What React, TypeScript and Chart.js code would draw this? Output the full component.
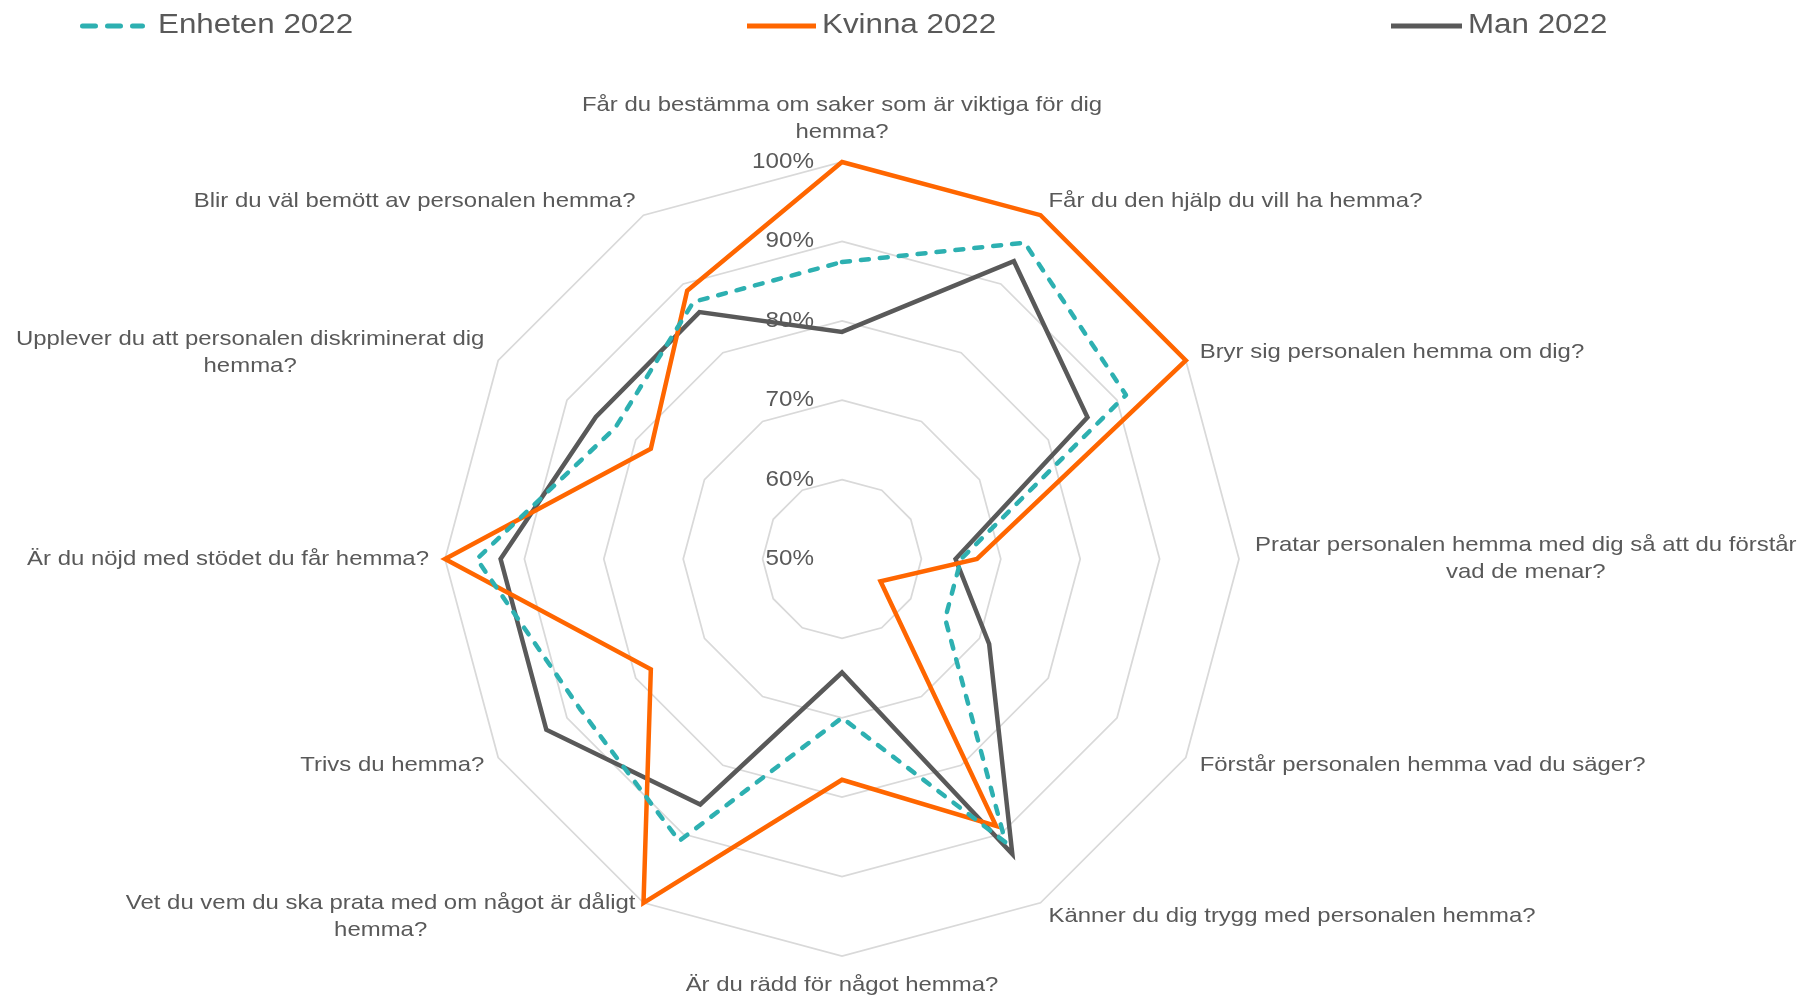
import React, { useEffect, useRef } from 'react';
import { Chart, registerables } from 'chart.js';

Chart.register(...registerables);

// ---- data ----
const categories: string[][] = [
  ['Får du bestämma om saker som är viktiga för dig', 'hemma?'],
  ['Får du den hjälp du vill ha hemma?'],
  ['Bryr sig personalen hemma om dig?'],
  ['Pratar personalen hemma med dig så att du förstår', 'vad de menar?'],
  ['Förstår personalen hemma vad du säger?'],
  ['Känner du dig trygg med personalen hemma?'],
  ['Är du rädd för något hemma?'],
  ['Vet du vem du ska prata med om något är dåligt', 'hemma?'],
  ['Trivs du hemma?'],
  ['Är du nöjd med stödet du får hemma?'],
  ['Upplever du att personalen diskriminerat dig', 'hemma?'],
  ['Blir du väl bemött av personalen hemma?'],
];

const enhetenValues = [87.4, 96, 91.3, 65, 65, 91.2, 70, 91, 88, 96, 83, 87.4];
const kvinnaValues = [100, 100, 100, 67, 55.6, 88.8, 77.8, 100, 77.8, 100, 77.8, 89];
const manValues = [78.6, 93.3, 85.7, 64.3, 71.4, 92.9, 64.3, 85.7, 93, 93, 85.8, 85.9];

const seriesNames = ['Enheten 2022', 'Kvinna 2022', 'Man 2022'];
const tickMin = 50;
const tickMax = 100;
const tickStep = 10;

// ---- styles ----
const TEXT_COLOR = '#595959';
const FONT_FAMILY = '"Liberation Sans", Arial, sans-serif';
const TEAL = '#2DB0B1';
const ORANGE = '#FF6600';
const GRAY = '#595959';

function drawStretched(
  ctx: CanvasRenderingContext2D,
  text: string,
  x: number,
  y: number,
  align: CanvasTextAlign,
  size: number,
  sx: number
) {
  ctx.save();
  ctx.font = `${size}px ${FONT_FAMILY}`;
  ctx.fillStyle = TEXT_COLOR;
  ctx.textBaseline = 'middle';
  ctx.textAlign = align;
  ctx.translate(x, y);
  ctx.scale(sx, 1);
  ctx.fillText(text, 0, 0);
  ctx.restore();
}

function measureStretched(ctx: CanvasRenderingContext2D, text: string, size: number, sx: number) {
  ctx.save();
  ctx.font = `${size}px ${FONT_FAMILY}`;
  const w = ctx.measureText(text).width * sx;
  ctx.restore();
  return w;
}

const LABEL_SIZE = 21;
const LABEL_SX = 1.14;
const LINE_H = 27;
const LABEL_GAP = 16;

const textPlugin = {
  id: 'customText',
  beforeDatasetsDraw(chart: any) {
    const ctx: CanvasRenderingContext2D = chart.ctx;
    const scale = chart.scales.r;
    scale.ticks.forEach((t: any) => {
      const r = scale.getDistanceFromCenterForValue(t.value);
      drawStretched(ctx, `${t.value}%`, scale.xCenter - 28, scale.yCenter - r, 'right', 22, 1.1);
    });
  },
  afterDraw(chart: any) {
    const ctx: CanvasRenderingContext2D = chart.ctx;
    const scale = chart.scales.r;
    // point labels
    categories.forEach((lines, i) => {
      const p = scale.getPointPosition(i, scale.drawingArea + LABEL_GAP);
      const dx = Math.cos(p.angle);
      const dy = Math.sin(p.angle);
      const widths = lines.map((l) => measureStretched(ctx, l, LABEL_SIZE, LABEL_SX));
      const bw = Math.max(...widths);
      const bh = lines.length * LINE_H;
      let cx: number;
      let top: number;
      if (Math.abs(dx) < 0.01) {
        cx = p.x;
        top = dy < 0 ? p.y - bh : p.y;
      } else {
        cx = dx > 0 ? p.x + bw / 2 : p.x - bw / 2;
        top = p.y - bh / 2;
      }
      lines.forEach((l, j) => {
        drawStretched(ctx, l, cx, top + LINE_H / 2 + j * LINE_H, 'center', LABEL_SIZE, LABEL_SX);
      });
    });
    // legend
    const items = [
      { x0: 82.5, x1: 142.5, tx: 158, color: TEAL, dash: [13, 12], cap: 'round' as CanvasLineCap },
      { x0: 747, x1: 816, tx: 822, color: ORANGE, dash: [], cap: 'butt' as CanvasLineCap },
      { x0: 1391, x1: 1462, tx: 1468, color: GRAY, dash: [], cap: 'butt' as CanvasLineCap },
    ];
    const ly = 26;
    items.forEach((it, i) => {
      ctx.save();
      ctx.strokeStyle = it.color;
      ctx.lineWidth = 5;
      ctx.lineCap = it.cap;
      ctx.setLineDash(it.dash);
      ctx.beginPath();
      ctx.moveTo(it.x0, ly);
      ctx.lineTo(it.x1, ly);
      ctx.stroke();
      ctx.restore();
      drawStretched(ctx, seriesNames[i], it.tx, ly, 'left', 27, 1.16);
    });
  },
};

export default function App() {
  const ref = useRef<HTMLCanvasElement | null>(null);
  useEffect(() => {
    document.body.style.margin = '0';
    document.body.style.overflow = 'hidden';
    if (!ref.current) return;
    const chart = new Chart(ref.current, {
      type: 'radar',
      data: {
        labels: categories.map((c) => c.join(' ')),
        datasets: [
          {
            label: seriesNames[0],
            data: enhetenValues,
            borderColor: TEAL,
            borderWidth: 4.5,
            borderDash: [8, 11],
            borderCapStyle: 'round',
            borderJoinStyle: 'round',
            fill: false,
            pointRadius: 0,
          },
          {
            label: seriesNames[1],
            data: kvinnaValues,
            borderColor: ORANGE,
            borderWidth: 4.5,
            borderJoinStyle: 'miter',
            fill: false,
            pointRadius: 0,
          },
          {
            label: seriesNames[2],
            data: manValues,
            borderColor: GRAY,
            borderWidth: 4.5,
            borderJoinStyle: 'miter',
            fill: false,
            pointRadius: 0,
          },
        ],
      },
      options: {
        animation: false,
        responsive: false,
        maintainAspectRatio: false,
        layout: { padding: { left: 445, right: 564, top: 162, bottom: 42 } },
        plugins: { legend: { display: false }, tooltip: { enabled: false } },
        elements: { line: { tension: 0 }, point: { radius: 0, hoverRadius: 0 } },
        scales: {
          r: {
            min: tickMin,
            max: tickMax,
            ticks: { stepSize: tickStep, display: false },
            grid: { color: '#d9d9d9', lineWidth: 1.75 },
            angleLines: { display: false },
            pointLabels: { display: false },
          },
        },
      },
      plugins: [textPlugin],
    } as any);
    return () => chart.destroy();
  }, []);
  return <canvas ref={ref} width={1803} height={998} style={{ display: 'block' }} />;
}
